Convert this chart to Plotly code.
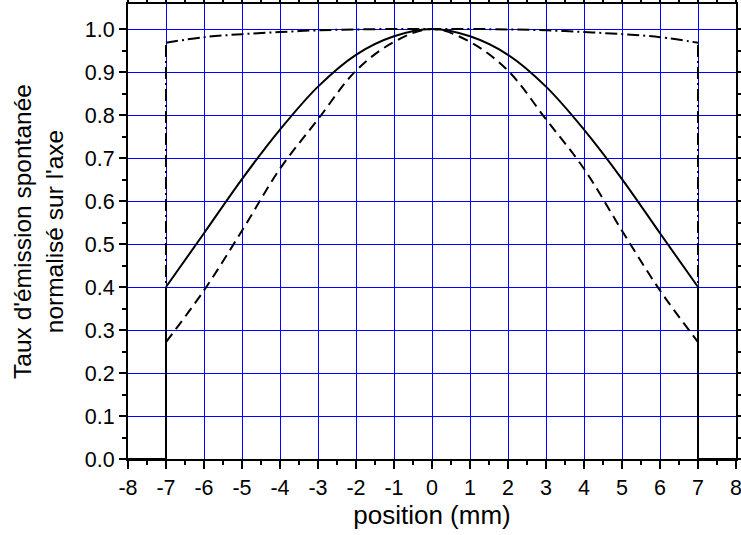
import plotly.graph_objects as go

# Curve data (position in mm, normalised rate)
pos = [-7, -6, -5, -4, -3, -2, -1, 0, 1, 2, 3, 4, 5, 6, 7]
solid_vals = [0.40, 0.525, 0.651, 0.766, 0.866, 0.94, 0.983, 1.0,
              0.983, 0.94, 0.866, 0.766, 0.651, 0.525, 0.40]
dashed_vals = [0.272, 0.392, 0.531, 0.675, 0.79, 0.903, 0.97, 1.0,
               0.97, 0.903, 0.79, 0.675, 0.531, 0.392, 0.272]
dashdot_vals = [0.968, 0.981, 0.988, 0.993, 0.997, 0.999, 1.0, 1.0,
                1.0, 0.999, 0.997, 0.993, 0.988, 0.981, 0.968]

# Edge segments (outside the cell the rate is zero)
left_x = [-8, -7, -7]
right_x = [8, 7, 7]

x_ticks = list(range(-8, 9))
y_ticks = [round(0.1 * i, 1) for i in range(11)]
x_minor = [v + 0.5 for v in range(-8, 8)]
y_minor = [round(0.1 * i + 0.05, 2) for i in range(10)]

fig = go.Figure()

def add_curve(xv, yv, dash, shape):
    fig.add_trace(go.Scatter(x=xv, y=yv, mode="lines", line_shape=shape,
                             line=dict(color="black", width=2, dash=dash),
                             showlegend=False, hoverinfo="skip", cliponaxis=False))

DASH = "10px,6px"
DASHDOT = "12px,4px,2px,4px"

# edges
for vals, dash in [(dashdot_vals, DASHDOT), (dashed_vals, DASH), (solid_vals, "solid")]:
    add_curve(left_x, [0, 0, vals[0]], dash, "linear")
    add_curve(right_x, [0, 0, vals[-1]], dash, "linear")

add_curve(pos, dashdot_vals, DASHDOT, "spline")
add_curve(pos, dashed_vals, DASH, "spline")
add_curve(pos, solid_vals, "solid", "spline")

font_fam = "Liberation Sans, Arial, sans-serif"

fig.update_layout(
    width=741, height=535,
    margin=dict(l=128, r=5, t=4, b=76, autoexpand=False),
    paper_bgcolor="white", plot_bgcolor="white",
    font=dict(family=font_fam, color="black", size=21),
    xaxis=dict(
        range=[-8, 8], tickvals=x_ticks, ticktext=[str(v) for v in x_ticks],
        showgrid=True, gridcolor="#0000ff", gridwidth=1,
        showline=True, linecolor="black", linewidth=2, mirror="ticks",
        ticks="outside", ticklen=8, tickwidth=2, tickcolor="black",
        minor=dict(tickvals=x_minor, ticks="outside", ticklen=4, tickwidth=2, tickcolor="black",
                   showgrid=False),
        zeroline=False, automargin=False, ticklabeloverflow="allow",
        title=dict(text="position (mm)", font=dict(size=26), standoff=4),
        tickfont=dict(size=21.5),
    ),
    yaxis=dict(
        range=[0, 455 / 430], tickvals=y_ticks, ticktext=[f"{v:.1f}" for v in y_ticks],
        showgrid=True, gridcolor="#0000ff", gridwidth=1,
        showline=True, linecolor="black", linewidth=2, mirror="ticks",
        ticks="outside", ticklen=7, tickwidth=2, tickcolor="black",
        minor=dict(tickvals=y_minor, ticks="outside", ticklen=4, tickwidth=2, tickcolor="black",
                   showgrid=False),
        zeroline=False, automargin=False, ticklabeloverflow="allow",
        title=dict(text="Taux d'émission spontanée<br>normalisé sur l'axe", font=dict(size=24.5), standoff=14),
        tickfont=dict(size=21.5),
    ),
)

fig.write_html("out.html", config={"displayModeBar": False},
               post_script="document.body.style.margin='0';document.body.style.padding='0';")
